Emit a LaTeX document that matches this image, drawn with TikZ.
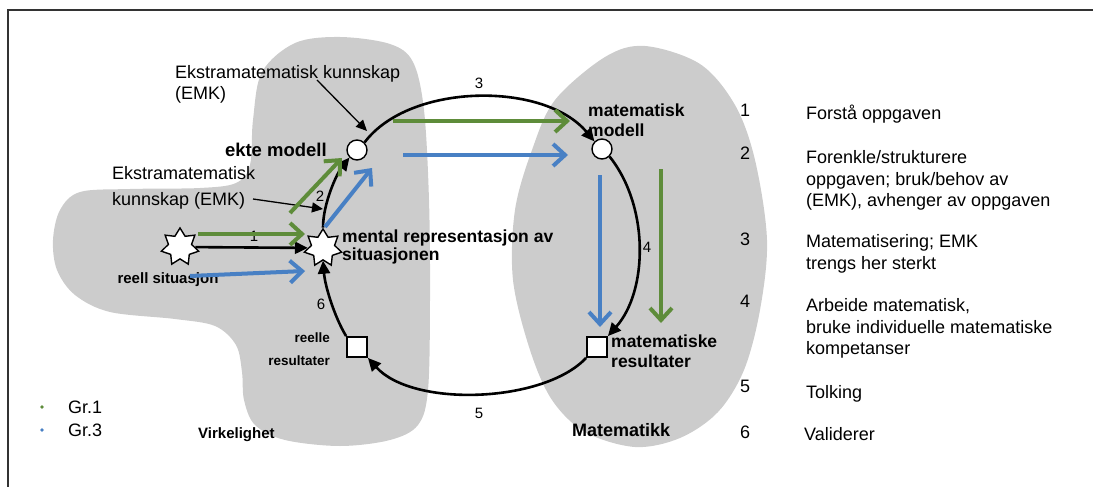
\documentclass[tikz,border=0pt]{standalone}
\usepackage{fontspec}
\setmainfont{Liberation Sans}
\usetikzlibrary{arrows.meta,shapes.geometric}
\definecolor{blobgray}{RGB}{204,204,204}
\definecolor{grgreen}{RGB}{94,140,58}
\definecolor{grblue}{RGB}{72,128,196}
\begin{document}
\begin{tikzpicture}[x=1pt,y=-1pt,
  fnt/.style 2 args={font=\fontsize{#1}{#2}\selectfont},
  bfnt/.style 2 args={font=\bfseries\fontsize{#1}{#2}\selectfont},
  txt/.style={inner sep=0pt, align=left, anchor=base west},
  arclabel/.style={inner sep=0pt, font=\fontsize{15}{15}\selectfont},
  starnode/.style={star, star points=7, star point ratio=1.6, minimum size=38pt, inner sep=0pt, draw=black, line width=1.4pt, fill=white},
  circnode/.style={circle, minimum size=20pt, inner sep=0pt, draw=black, line width=1.4pt, fill=white},
  sqnode/.style={rectangle, minimum size=20pt, inner sep=0pt, draw=black, line width=1.8pt, fill=white},
  grarrow/.style={line width=4pt, -{Straight Barb[length=12pt,width=22pt]}},
  blarrow/.style={line width=2.6pt, -{Triangle[length=13pt,width=12pt]}},
  emk/.style={line width=1.3pt, -{Triangle[length=11pt,width=10pt]}}
]
\useasboundingbox (0,0) rectangle (1093,487);
% frame
\draw[line width=2pt, draw=black!80] (8,487) -- (8,10) -- (1093,10);
% blobs
\fill[blobgray] plot[smooth cycle, tension=0.55] coordinates {
 (53,240) (60,210) (80,192) (130,189) (200,188) (236,183) (250,165) (253,120)
 (262,72) (295,43) (340,37) (390,44) (413,62) (424,110) (429,200) (430,300)
 (428,390) (418,425) (390,440) (340,446) (285,440) (255,425) (244,400) (242,372)
 (236,345) (215,326) (175,319) (110,312) (75,295) (57,270)};
\fill[blobgray] plot[smooth cycle, tension=0.55] coordinates {
 (645,46) (700,64) (735,105) (755,160) (767,240) (760,310) (744,370) (718,412)
 (680,438) (635,447) (585,432) (552,400) (530,350) (513,280) (515,210) (532,150)
 (555,100) (605,57)};

% main nodes
\node[starnode] (reell) at (180,247) {};
\node[starnode] (mental) at (323,248) {};
\node[circnode] (ekte) at (357,150) {};
\node[circnode] (mm) at (602,149) {};
\node[sqnode] (rl) at (357,347) {};
\node[sqnode] (mr) at (597,347) {};

% texts (base anchor = baseline of last line)
\node[txt, fnt={18}{21}] (emk1) at (175,99.5) {Ekstramatematisk kunnskap\\(EMK)};
\node[txt, fnt={18}{26}] (emk2) at (112,205.5) {Ekstramatematisk\\kunnskap (EMK)};
\node[txt, anchor=base east, bfnt={18.5}{18.5}] (ektetxt) at (327,156.5) {ekte modell};
\node[txt, bfnt={17.5}{18}] (mentaltxt) at (342,260.5) {mental representasjon av\\situasjonen};
\node[txt, anchor=base, bfnt={15}{15}] (reelltxt) at (168,283.5) {reell situasjon};
\node[txt, anchor=base east, align=right, bfnt={13.5}{23}] (rltxt) at (330,365) {reelle\\resultater};
\node[txt, bfnt={17.5}{20}] (mmtxt) at (588,136.5) {matematisk\\modell};
\node[txt, bfnt={17.5}{20}] (mrtxt) at (611,367.5) {matematiske\\resultater};
\node[txt, bfnt={18}{18}] (matte) at (572,436.5) {Matematikk};
\node[txt, bfnt={15}{15}] (virk) at (198,438.5) {Virkelighet};

% legend
\fill[grgreen] (42,407) circle (1.8);
\fill[grblue] (42,430) circle (1.8);
\node[txt, fnt={18}{18}] (gr1) at (68,413.5) {Gr.1};
\node[txt, fnt={18}{18}] (gr3) at (68,436.5) {Gr.3};

% right column
\begin{scope}[every node/.style={inner sep=0pt, anchor=base, font=\fontsize{18}{18}\selectfont}]
\node (n1) at (745,116.5) {1};
\node (n2) at (745,159.5) {2};
\node (n3) at (745,245.5) {3};
\node (n4) at (745,307.5) {4};
\node (n5) at (745,392.5) {5};
\node (n6) at (745,438.5) {6};
\end{scope}
\node[txt, fnt={18}{21.5}] (t1) at (806,119.5) {Forstå oppgaven};
\node[txt, fnt={18}{21.5}] (t2) at (806,206.5) {Forenkle/strukturere\\oppgaven; bruk/behov av\\(EMK), avhenger av oppgaven};
\node[txt, fnt={18}{21.5}] (t3) at (806,269) {Matematisering; EMK\\trengs her sterkt};
\node[txt, fnt={18}{21.5}] (t4) at (806,354.5) {Arbeide matematisk,\\bruke individuelle matematiske\\kompetanser};
\node[txt, fnt={18}{21.5}] (t5) at (806,398.5) {Tolking};
\node[txt, fnt={18}{21.5}] (t6) at (804,440.5) {Validerer};

% arc labels
\node[arclabel] (l1) at (254,236) {1};
\node[arclabel] (l2) at (320,196) {2};
\node[arclabel] (l3) at (479,83) {3};
\node[arclabel] (l4) at (647,247) {4};
\node[arclabel] (l5) at (479,413) {5};
\node[arclabel] (l6) at (321,304) {6};

% black cycle arrows
\draw[blarrow] (reell) -- (mental);
\draw[blarrow] (mental.north) .. controls +(0,-25) and +(-12,15) .. (ekte.south west);
\draw[blarrow] (ekte.north east) .. controls +(45,-60) and +(-50,-60) .. (mm.north west);
\draw[blarrow] (mm.south east) .. controls +(40,50) and +(40,-45) .. (mr.north east);
\draw[blarrow] (mr.south west) .. controls +(-42,45) and +(45,50) .. (rl.south east);
\draw[blarrow] (rl.north west) .. controls +(-12,-20) and +(2,25) .. (mental.south);

% EMK arrows
\coordinate (e1s) at (317,80);
\coordinate (e1e) at (367,131);
\draw[emk] (e1s) -- (e1e);
\coordinate (e2s) at (253,199);
\coordinate (e2e) at (323,209);
\draw[emk] (e2s) -- (e2e);

% green arrows
\coordinate (g1a) at (198,234); \coordinate (g1b) at (305,234);
\coordinate (g2a) at (290,213); \coordinate (g2b) at (342,158);
\coordinate (g3a) at (393,121); \coordinate (g3b) at (570,121);
\coordinate (g4a) at (661,169); \coordinate (g4b) at (661,323);
\draw[grarrow, grgreen] (g1a) -- (g1b);
\draw[grarrow, grgreen] (g2a) -- (g2b);
\draw[grarrow, grgreen] (g3a) -- (g3b);
\draw[grarrow, grgreen] (g4a) -- (g4b);
% blue arrows
\coordinate (b1a) at (190,276); \coordinate (b1b) at (305,271);
\coordinate (b2a) at (325,227); \coordinate (b2b) at (372,168);
\coordinate (b3a) at (403,155); \coordinate (b3b) at (568,155);
\coordinate (b4a) at (600,175); \coordinate (b4b) at (600,327);
\draw[grarrow, grblue] (b1a) -- (b1b);
\draw[grarrow, grblue] (b2a) -- (b2b);
\draw[grarrow, grblue] (b3a) -- (b3b);
\draw[grarrow, grblue] (b4a) -- (b4b);
\end{tikzpicture}
\end{document}
